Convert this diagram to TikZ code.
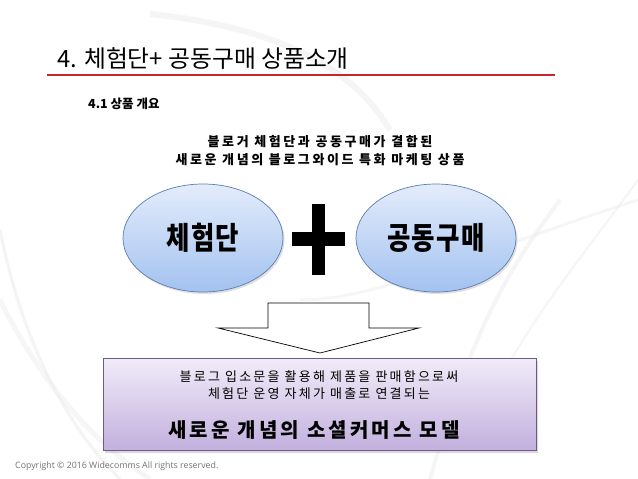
\documentclass[tikz,border=0pt]{standalone}
\usepackage{fontspec}
\setmainfont{Noto Sans CJK KR}
\newfontfamily\latinfont{Open Sans}
\newfontfamily\spacedfont[LetterSpace=17]{Noto Sans CJK KR}
\newfontfamily\descfont[LetterSpace=20]{Noto Sans CJK KR}
\newfontfamily\spacedmodel[LetterSpace=16]{Noto Sans CJK KR}
\newfontfamily\tallfont[FakeStretch=0.82,LetterSpace=4]{Noto Sans CJK KR}
\usetikzlibrary{shapes.geometric,shadows}
\definecolor{titlered}{HTML}{C0282D}
\definecolor{elltop}{HTML}{E3ECFB}
\definecolor{ellbot}{HTML}{A3C2F0}
\definecolor{elledge}{HTML}{5B7DB0}
\definecolor{boxtop}{HTML}{F1ECF8}
\definecolor{boxbot}{HTML}{C2B0DE}
\definecolor{boxedge}{HTML}{6E5B8A}
\definecolor{swoosh}{HTML}{EAEAEA}
\tikzset{
  bubble/.style={ellipse, draw=elledge, line width=0.7pt, top color=elltop, bottom color=ellbot,
    minimum width=160pt, minimum height=108pt, inner sep=0pt,
    drop shadow={shadow xshift=1.5pt, shadow yshift=-2pt, opacity=0.25},
    font=\tallfont\fontsize{31}{32}\selectfont\bfseries},
  modelbox/.style={rectangle, draw=boxedge, line width=0.7pt, top color=boxtop, bottom color=boxbot,
    minimum width=433pt, minimum height=92pt, inner sep=0pt,
    drop shadow={shadow xshift=2pt, shadow yshift=-2.5pt, opacity=0.3}},
  txt/.style={inner sep=0pt, text=black},
}
\begin{document}
\begin{tikzpicture}[x=1pt,y=-1pt]
\useasboundingbox (0,0) rectangle (638,479);
\fill[white] (0,0) rectangle (638,479);
% faint background swooshes
\draw[swoosh, line width=6pt, opacity=0.45] (150,14) .. controls (300,30) and (360,80) .. (390,130);
\draw[swoosh, line width=3pt, opacity=0.5] (0,230) .. controls (20,330) and (60,420) .. (120,479);
\draw[swoosh, line width=5pt, opacity=0.4] (0,300) .. controls (40,380) and (90,440) .. (150,479);
\draw[swoosh, line width=4pt, opacity=0.45] (560,200) .. controls (500,280) and (470,340) .. (430,479);
\draw[swoosh, line width=2pt, opacity=0.45] (638,180) .. controls (580,260) and (520,330) .. (480,420);
\draw[swoosh, line width=3pt, opacity=0.4] (300,300) .. controls (380,300) and (480,250) .. (638,200);

% title
\node[txt, anchor=base west] (title) at (57,67) {\fontsize{23.8}{26}\selectfont 4. 체험단+ 공동구매 상품소개};
\draw[titlered, line width=1.6pt] (47,75) -- (555,75);
\node[txt, anchor=base west] (sub) at (88,108) {\fontsize{12.5}{14}\selectfont\bfseries 4.1 상품 개요};

% description
\node[txt, align=center, font=\descfont\fontsize{13}{18}\selectfont\bfseries] (desc) at (320,151)
  {블로거 체험단과 공동구매가 결합된\\새로운 개념의 블로그와이드 특화 마케팅 상품};

% ellipses
\node[bubble] (exp) at (203,238) {체험단};
\node[bubble] (buy) at (436,238) {공동구매};

% plus
\fill[black] (292,232) rectangle (345,246);
\fill[black] (312,204) rectangle (325,275);

% block arrow
\draw[black, fill=white, line width=0.7pt] (268,303) -- (369,303) -- (369,328) -- (419,328) -- (320,353) -- (218,328) -- (268,328) -- cycle;

% model box
\node[modelbox] (model) at (319.5,404) {};
\node[txt, align=center, font=\spacedfont\fontsize{13}{17}\selectfont] (mtext) at (319,385)
  {블로그 입소문을 활용해 제품을 판매함으로써\\체험단 운영 자체가 매출로 연결되는};
\node[txt, font=\spacedmodel\fontsize{20}{22}\selectfont\bfseries] (mtitle) at (314,430) {새로운 개념의 소셜커머스 모델};

% copyright
\node[txt, anchor=base west, text=black!55, font=\latinfont\fontsize{8.8}{10}\selectfont] (copy) at (15,468)
  {Copyright © 2016 Widecomms All rights reserved.};
\end{tikzpicture}
\end{document}
